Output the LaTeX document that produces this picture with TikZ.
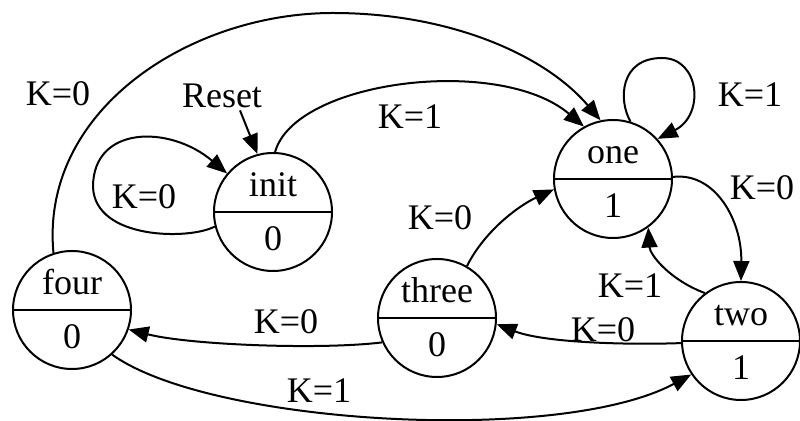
\documentclass[tikz,border=0pt]{standalone}
\usepackage{fontspec}
\setmainfont{Liberation Serif}
\usetikzlibrary{arrows.meta, shapes.multipart}

\newcommand{\stname}[1]{\makebox[0pt]{#1}}

\begin{document}
\begin{tikzpicture}[x=0.5pt, y=-0.5pt,
    state/.style={circle split, draw, line width=1pt, minimum size=59pt,
                  inner xsep=0pt, inner ysep=7pt, font=\fontsize{18}{20}\selectfont},
    arrow/.style={-{Triangle[length=10pt, width=8pt]}, line width=1pt},
    cond/.style={font=\fontsize{18}{20}\selectfont, inner sep=1pt}
  ]
  \useasboundingbox (0,0) rectangle (800,421);

  \node[state] (init) at (273,212) {\stname{init} \nodepart{lower} 0};
  \node[state] (one) at (613,179) {\stname{one} \nodepart{lower} 1};
  \node[state] (four) at (72,310) {\stname{four} \nodepart{lower} 0};
  \node[state] (three) at (437,318) {\stname{three} \nodepart{lower} 0};
  \node[state] (two) at (741,341) {\stname{two} \nodepart{lower} 1};

  \node[cond] (reset) at (222,96) {Reset};
  \draw[arrow] ([xshift=9pt]reset.south) -- (init.105);

  \draw[arrow] (four.108) .. controls (40,110) and (190,13) .. (333,13)
    .. controls (450,13) and (545,55) .. (one.102);
  \draw[arrow] (init.194) .. controls (190,240) and (95,240) .. (93,187)
    .. controls (93,125) and (170,125) .. (init.140);
  \draw[arrow] (init.88) .. controls (295,80) and (500,55) .. (one.119);
  \draw[arrow] (one.73) .. controls (618,100) and (620,58) .. (662,58)
    .. controls (700,58) and (705,115) .. (one.42);
  \draw[arrow] (one.2) .. controls (715,172) and (742,220) .. (two.90);
  \draw[arrow] (two.127) .. controls (670,280) and (650,255) .. (one.-54);
  \draw[arrow] (two.182) .. controls (630,345) and (545,343) .. (three.-6);
  \draw[arrow] (three.60) .. controls (485,230) and (520,205) .. (one.190);
  \draw[arrow] (three.204) .. controls (320,350) and (190,345) .. (four.-19);
  \draw[arrow] (four.-48) .. controls (210,425) and (560,445) .. (two.-146);

  \node[cond] (c40) at (58,94) {K=0};
  \node[cond] (cii) at (144,197) {K=0};
  \node[cond] (ci1) at (410,117) {K=1};
  \node[cond] (c11) at (750,95) {K=1};
  \node[cond] (c12) at (762,188) {K=0};
  \node[cond] (c21) at (630,286) {K=1};
  \node[cond] (c23) at (603,330) {K=0};
  \node[cond] (c31) at (440,218) {K=0};
  \node[cond] (c34) at (286,322) {K=0};
  \node[cond] (c42) at (319,391) {K=1};
\end{tikzpicture}
\end{document}
